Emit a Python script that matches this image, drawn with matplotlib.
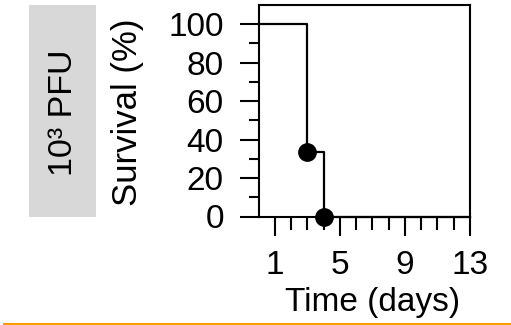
import matplotlib
matplotlib.use('Agg')
import matplotlib.pyplot as plt
from matplotlib.patches import Rectangle
from matplotlib.lines import Line2D
from matplotlib.ticker import FixedLocator

plt.rcParams['font.family'] = ['Liberation Sans', 'DejaVu Sans']

# Kaplan-Meier curve, 10^3 PFU group
days = [0, 3, 4, 13]
survival = [100, 33.3, 0, 0]
death_days = [3, 4]
death_survival = [33.3, 0]

x_major = [1, 5, 9, 13]
x_minor = [2, 3, 4, 6, 7, 8, 10, 11, 12]
y_major = [0, 20, 40, 60, 80, 100]
y_minor = [10, 30, 50, 70, 90]

W, H = 511, 325
fig = plt.figure(figsize=(W / 100, H / 100), dpi=100)
ax = fig.add_axes([258.5 / W, (H - 216.5) / H, 211.5 / W, 211.5 / H])

ax.step(days, survival, where='post', color='black', lw=1.6, clip_on=False, zorder=3)
ax.plot(death_days, death_survival, 'o', color='black', ms=12.5, clip_on=False, zorder=4)

ax.set_xlim(0, 13)
ax.set_ylim(0, 110)
ax.yaxis.set_major_locator(FixedLocator(y_major))
ax.yaxis.set_minor_locator(FixedLocator(y_minor))
ax.xaxis.set_major_locator(FixedLocator(x_major))
ax.xaxis.set_minor_locator(FixedLocator(x_minor))

for s in ax.spines.values():
    s.set_linewidth(1.5)
ax.tick_params(which='major', length=14, width=1.5, labelsize=24, direction='out')
ax.tick_params(axis='y', which='minor', length=7.5, width=1.5, direction='out')
ax.tick_params(axis='x', which='minor', length=9, width=1.5, direction='out')
ax.tick_params(axis='y', pad=11)
ax.tick_params(axis='x', pad=10)

# axis titles
fig.text(128 / W, (H - 112) / H, 'Survival (%)', rotation=90, fontsize=25,
         ha='center', va='center')
fig.text(373 / W, (H - 303) / H, 'Time (days)', fontsize=24,
         ha='center', va='center')

# grey group label on the left
fig.patches.append(Rectangle((29 / W, (H - 217) / H), 67 / W, 212 / H,
                             transform=fig.transFigure, facecolor='#d8d8d8',
                             edgecolor='none'))
fig.text(63 / W, (H - 113) / H, '10³ PFU', rotation=90, fontsize=24.5,
         ha='center', va='center')

# orange rule along the bottom
fig.lines.append(Line2D([4 / W, 1], [(H - 324) / H] * 2, transform=fig.transFigure,
                        color='#ff9a00', lw=1.5))

fig.savefig('out.png', dpi=100)
